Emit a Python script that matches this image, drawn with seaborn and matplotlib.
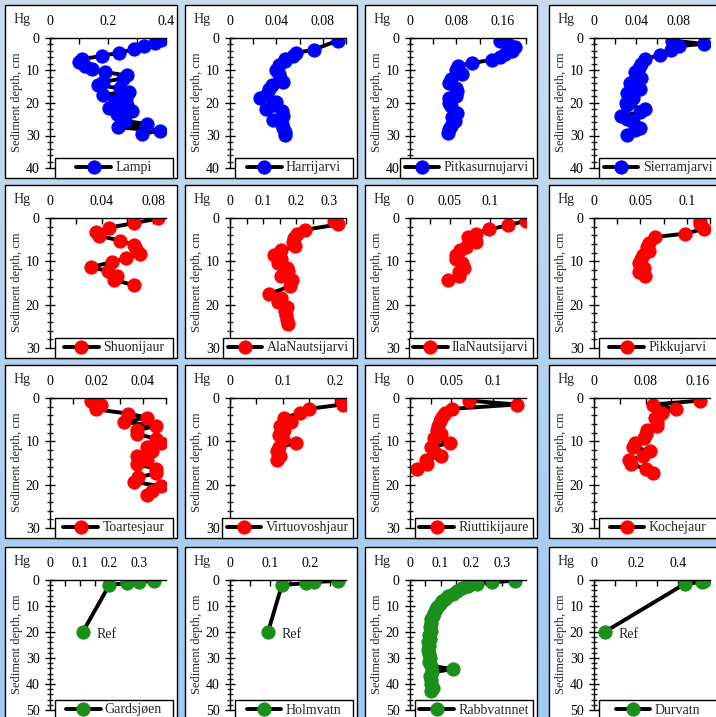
import numpy as np
import pandas as pd
import matplotlib.pyplot as plt
import seaborn as sns
from matplotlib.patches import Rectangle
from matplotlib.ticker import MultipleLocator, FuncFormatter
from matplotlib.colors import LinearSegmentedColormap

sns.set_style("white")
plt.rcParams['font.family'] = ['Liberation Serif', 'DejaVu Serif']

# ---- data (Hg vs sediment depth) ----
lampi_depth = [0.5, 1.5, 2.5, 3.5, 4.5, 5.5, 6.5, 7.5, 8.5, 9.5, 10.5, 11.5, 12.5, 13.5, 14.5,
               15.5, 16.5, 17.5, 18.5, 19.5, 20.5, 21.5, 22.5, 23.5, 24.5, 25.5, 26.5, 27.5, 28.5, 29.5]
lampi_hg = [0.383, 0.363, 0.325, 0.288, 0.239, 0.179, 0.110, 0.100, 0.120, 0.146, 0.190, 0.265, 0.251,
            0.182, 0.164, 0.242, 0.271, 0.182, 0.263, 0.225, 0.265, 0.202, 0.282, 0.231, 0.254, 0.259,
            0.334, 0.233, 0.380, 0.317]

harri_depth = [0.8, 3.6, 4.6, 5.4, 6.6, 7.2, 8.4, 9.7, 11.0, 12.3, 13.5, 14.6, 15.8, 17.1, 18.6,
               19.6, 20.7, 21.7, 22.5, 23.9, 25.2, 26.6, 27.8, 29.0, 29.8]
harri_hg = [0.093, 0.072, 0.057, 0.054, 0.047, 0.047, 0.042, 0.040, 0.042, 0.043, 0.046, 0.036, 0.034,
            0.032, 0.026, 0.040, 0.037, 0.031, 0.045, 0.046, 0.037, 0.045, 0.046, 0.047, 0.047]

pitka_depth = [1.0, 1.7, 2.7, 4.0, 5.0, 6.0, 6.7, 7.7, 8.5, 9.8, 11.0, 12.7, 13.8, 15.3, 16.3, 17.7,
               18.5, 20.0, 21.0, 23.0, 24.3, 25.5, 27.0, 28.0, 29.3]
pitka_hg = [0.156, 0.169, 0.181, 0.175, 0.163, 0.156, 0.142, 0.107, 0.083, 0.080, 0.089, 0.071, 0.068,
            0.079, 0.081, 0.080, 0.068, 0.068, 0.071, 0.081, 0.073, 0.077, 0.071, 0.068, 0.065]

sierra_depth = [0.8, 1.8, 2.5, 3.7, 5.1, 6.6, 8.0, 9.3, 10.5, 12.3, 13.8, 15.8, 16.8, 18.6, 19.9,
                20.7, 21.7, 22.8, 24.0, 25.0, 26.0, 27.6, 28.3, 29.9]
sierra_hg = [0.074, 0.104, 0.081, 0.073, 0.063, 0.048, 0.045, 0.043, 0.039, 0.045, 0.034, 0.044, 0.031,
             0.037, 0.030, 0.031, 0.048, 0.044, 0.026, 0.031, 0.037, 0.044, 0.039, 0.031]

shuoni_depth = [0.1, 1.2, 2.2, 3.2, 4.1, 5.2, 6.2, 7.1, 8.2, 9.3, 10.2, 11.3, 12.3, 13.4, 14.3, 15.5]
shuoni_hg = [0.084, 0.065, 0.046, 0.036, 0.038, 0.054, 0.065, 0.067, 0.070, 0.059, 0.048, 0.032,
             0.045, 0.052, 0.050, 0.065]

ala_depth = [0.6, 1.5, 2.7, 3.8, 4.7, 5.5, 6.5, 7.5, 8.5, 9.5, 10.5, 11.6, 12.3, 13.5, 14.4, 15.8,
             17.5, 18.4, 19.4, 20.5, 21.5, 22.4, 23.6, 24.5]
ala_hg = [0.314, 0.325, 0.227, 0.201, 0.194, 0.191, 0.196, 0.155, 0.134, 0.155, 0.144, 0.173, 0.175,
          0.153, 0.186, 0.180, 0.119, 0.153, 0.144, 0.173, 0.165, 0.170, 0.173, 0.175]

ila_depth = [0.6, 1.7, 2.6, 3.6, 4.5, 5.5, 6.6, 7.5, 8.5, 9.4, 10.4, 11.5, 12.5, 13.4, 14.3]
ila_hg = [0.145, 0.123, 0.099, 0.083, 0.072, 0.082, 0.070, 0.063, 0.058, 0.057, 0.065, 0.067, 0.061,
          0.061, 0.048]

pikku_depth = [0.6, 1.4, 2.5, 3.6, 4.4, 5.7, 6.6, 7.6, 8.5, 9.5, 10.5, 11.5, 12.5, 13.5]
pikku_hg = [0.114, 0.114, 0.119, 0.098, 0.066, 0.059, 0.057, 0.059, 0.053, 0.051, 0.048, 0.054,
            0.049, 0.055]

toart_depth = [0.6, 1.5, 2.6, 3.6, 4.5, 5.5, 6.5, 7.4, 8.3, 9.4, 10.4, 11.3, 12.3, 13.4, 14.3,
               15.3, 16.3, 17.4, 18.3, 19.3, 20.4, 21.4, 22.3]
toart_hg = [0.0178, 0.0218, 0.0198, 0.0336, 0.0418, 0.0321, 0.0455, 0.0376, 0.0376, 0.0455, 0.0477,
            0.0418, 0.0440, 0.0373, 0.0418, 0.0376, 0.0455, 0.0455, 0.0380, 0.0361, 0.0477, 0.0440,
            0.0418]

virtuo_depth = [0.6, 1.5, 2.5, 3.5, 4.5, 5.5, 6.5, 7.4, 8.5, 9.4, 10.4, 11.3, 12.3, 13.4, 14.2]
virtuo_hg = [0.213, 0.214, 0.149, 0.133, 0.103, 0.115, 0.095, 0.103, 0.092, 0.100, 0.126, 0.093,
             0.090, 0.095, 0.089]

riutti_depth = [0.6, 1.5, 2.5, 3.5, 4.4, 5.3, 6.4, 7.4, 8.3, 9.3, 10.4, 11.3, 12.3, 13.4, 14.3,
                15.3, 16.4]
riutti_hg = [0.071, 0.129, 0.051, 0.042, 0.039, 0.036, 0.034, 0.033, 0.037, 0.029, 0.048, 0.025,
             0.029, 0.037, 0.019, 0.021, 0.009]

koche_depth = [0.6, 1.5, 2.5, 3.5, 4.5, 5.5, 6.5, 7.4, 8.3, 9.3, 10.4, 11.3, 12.3, 13.4, 14.3,
               15.3, 16.3, 17.3]
koche_hg = [0.165, 0.091, 0.128, 0.105, 0.094, 0.097, 0.097, 0.082, 0.080, 0.078, 0.064, 0.061,
            0.087, 0.076, 0.055, 0.057, 0.080, 0.091]

gards_depth = [0.3, 0.8, 1.3, 1.8, 20.0]
gards_hg = [0.35, 0.30, 0.26, 0.20, 0.11]

holm_depth = [0.3, 0.8, 1.3, 1.8, 20.0]
holm_hg = [0.27, 0.21, 0.19, 0.13, 0.095]

rabb_depth = [0.3, 0.8, 1.5, 2.3, 3.2, 4.2, 5.2, 6.2, 7.2, 8.2, 9.2, 10.2, 11.2, 12.5, 13.8, 15.0,
              16.5, 18.0, 19.5, 21.0, 22.5, 24.0, 25.5, 27.0, 28.5, 30.0, 31.5, 33.0, 34.3, 35.5,
              37.0, 38.5, 40.0, 41.5, 42.5]
rabb_hg = [0.345, 0.27, 0.22, 0.19, 0.17, 0.155, 0.14, 0.125, 0.115, 0.105, 0.098, 0.09, 0.085,
           0.08, 0.075, 0.07, 0.068, 0.065, 0.068, 0.062, 0.065, 0.06, 0.063, 0.06, 0.062, 0.065,
           0.062, 0.07, 0.14, 0.072, 0.065, 0.068, 0.07, 0.075, 0.07]

durv_depth = [0.3, 0.8, 1.5, 20.0]
durv_hg = [0.52, 0.51, 0.43, 0.05]

names = ['Lampi', 'Harrijarvi', 'Pitkasurnujarvi', 'Sierramjarvi',
         'Shuonijaur', 'AlaNautsijarvi', 'IlaNautsijarvi', 'Pikkujarvi',
         'Toartesjaur', 'Virtuovoshjaur', 'Riuttikijaure', 'Kochejaur',
         'Gardsjøen', 'Holmvatn', 'Rabbvatnnet', 'Durvatn']
depths = [lampi_depth, harri_depth, pitka_depth, sierra_depth,
          shuoni_depth, ala_depth, ila_depth, pikku_depth,
          toart_depth, virtuo_depth, riutti_depth, koche_depth,
          gards_depth, holm_depth, rabb_depth, durv_depth]
hgs = [lampi_hg, harri_hg, pitka_hg, sierra_hg,
       shuoni_hg, ala_hg, ila_hg, pikku_hg,
       toart_hg, virtuo_hg, riutti_hg, koche_hg,
       gards_hg, holm_hg, rabb_hg, durv_hg]
# axis settings per panel: x max, label step
x_max = [0.4, 0.1, 0.2, 0.11,
         0.09, 0.35, 0.145, 0.125,
         0.05, 0.22, 0.14, 0.18,
         0.39, 0.29, 0.38, 0.55]
x_major = [0.2, 0.04, 0.08, 0.04,
           0.04, 0.1, 0.05, 0.05,
           0.02, 0.1, 0.05, 0.08,
           0.1, 0.1, 0.1, 0.2]
row_ymax = [40, 30, 30, 50]
row_color = ['#0000ff', '#ff0000', '#ff0000', '#1a8f1a']
ref_lakes = ['Gardsjøen', 'Holmvatn', 'Durvatn']

# ---- layout in pixels ----
W, H = 716, 717
col_left = [5, 185, 365, 549]
row_top = [5, 185, 365, 547]
PW, PH = 172, 173


def fx(px):
    return px / W


def fy(py):
    return 1 - py / H


fig = plt.figure(figsize=(W / 100, H / 100), dpi=100)

# light blue gradient background
bg = fig.add_axes([0, 0, 1, 1], zorder=-10)
cmap = LinearSegmentedColormap.from_list('bg', ['#c9dcee', '#9ec9f3'])
bg.imshow(np.linspace(0, 1, 256)[:, None], aspect='auto', cmap=cmap, extent=[0, 1, 0, 1])
bg.axis('off')

fmt = FuncFormatter(lambda v, p: '{:g}'.format(round(v, 6)))
axes, legends = [], []
for k, name in enumerate(names):
    r, c = divmod(k, 4)
    left, top = col_left[c], row_top[r]
    fig.add_artist(Rectangle((fx(left), fy(top + PH)), PW / W, PH / H, transform=fig.transFigure,
                             facecolor='white', edgecolor='black', lw=1, zorder=-5))
    ax = fig.add_axes([fx(left + 45), fy(top + 163), 116 / W, 130 / H])
    ax.set_facecolor('none')
    col = row_color[r]
    sns.lineplot(x=hgs[k], y=depths[k], sort=False, estimator=None, ax=ax, color='black',
                 linewidth=2.8, marker='o', markersize=9.5, markerfacecolor=col,
                 markeredgecolor=col)
    ax.set_xlim(0, x_max[k])
    ax.set_ylim(row_ymax[r], 0)
    ax.xaxis.tick_top()
    ax.xaxis.set_major_locator(MultipleLocator(x_major[k]))
    ax.xaxis.set_minor_locator(MultipleLocator(x_major[k] / 2))
    ax.xaxis.set_major_formatter(fmt)
    ax.yaxis.set_major_locator(MultipleLocator(10))
    ax.yaxis.set_minor_locator(MultipleLocator(2))
    ax.tick_params(axis='x', which='both', direction='in', length=4, width=1, pad=7,
                   labelsize=10, top=True, bottom=False, colors='black')
    ax.tick_params(axis='y', which='major', direction='inout', length=7, width=1, pad=4,
                   labelsize=10, left=True, right=False, colors='black')
    ax.tick_params(axis='y', which='minor', direction='inout', length=5, width=1, left=True)
    for s in ['right', 'bottom']:
        ax.spines[s].set_visible(False)
    for s in ['left', 'top']:
        ax.spines[s].set_color('black')
        ax.spines[s].set_linewidth(1)
    ax.set_xlabel('')
    ax.set_ylabel('')
    ax.annotate('Hg', xy=(0, 1), xycoords='axes fraction', xytext=(-28, 18),
                textcoords='offset pixels', ha='center', va='center', fontsize=10)
    fig.text(fx(left + 12), fy(top + 97), 'Sediment depth, cm', rotation=90,
             ha='center', va='center', fontsize=9)
    if name in ref_lakes:
        ax.annotate('Ref', xy=(hgs[k][-1], depths[k][-1]), xytext=(14, -3),
                    textcoords='offset pixels', ha='left', va='center', fontsize=10)
    leg = ax.legend(handles=[ax.lines[0]], labels=[name], loc='center', frameon=False,
                    bbox_to_anchor=(fx(left + 109), fy(top + 163)), bbox_transform=fig.transFigure,
                    fontsize=10, handlelength=2.5, handletextpad=0.3, borderpad=0.1,
                    borderaxespad=0)
    axes.append((ax, left, top))
    legends.append(leg)

# legend boxes: fixed width unless the label needs more room, right edge fixed
fig.canvas.draw()
renderer = fig.canvas.get_renderer()
for (ax, left, top), leg in zip(axes, legends):
    w = leg.get_window_extent(renderer).width
    bw = max(118, w + 6)
    right = left + 168
    cx = right - bw / 2
    leg.set_bbox_to_anchor((fx(cx), fy(top + 163)), transform=fig.transFigure)
    ax.add_patch(Rectangle((fx(right - bw), fy(top + PH)), bw / W, 20 / H, transform=fig.transFigure,
                           facecolor='white', edgecolor='black', lw=1, clip_on=False, zorder=4))

fig.savefig('out.png', dpi=100)
